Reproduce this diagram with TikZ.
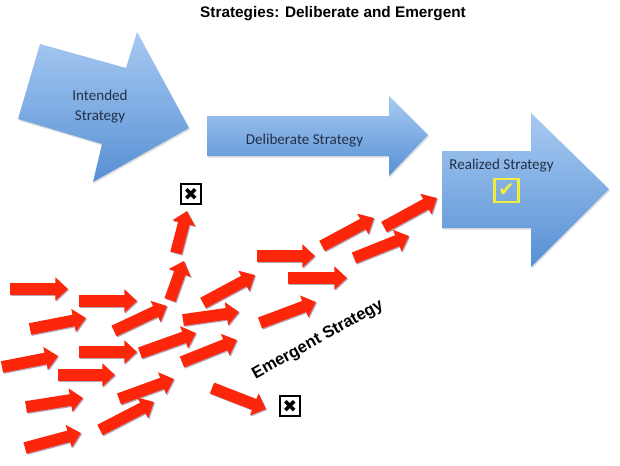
\documentclass[tikz,border=0pt]{standalone}
\usepackage{fontspec}
\setmainfont{Carlito}
\newfontfamily\headfont{Liberation Sans}
\newfontfamily\symfont{DejaVu Sans}
\usetikzlibrary{arrows.meta,shadows}
\definecolor{blueTop}{HTML}{A8CAF2}
\definecolor{blueBot}{HTML}{5790D4}
\definecolor{arrRed}{HTML}{FC260A}
\definecolor{shadowC}{HTML}{B3A6BD}
\definecolor{chkY}{HTML}{F0EC40}
\definecolor{txtBlue}{HTML}{243048}
\tikzset{
  bigarrow/.style={top color=blueTop, bottom color=blueBot, draw=none,
    drop shadow={shadow xshift=0.8pt, shadow yshift=-1.2pt, opacity=0.25}},
  bluetext/.style={text=txtBlue, font=\fontsize{11.3}{15}\selectfont, inner sep=0pt, align=center},
  redarrow/.style={line width=8.8pt, draw=arrRed, -{Triangle[length=9.5pt, width=17pt]}},
  redshadow/.style={line width=8.8pt, draw=shadowC, -{Triangle[length=9.5pt, width=17pt]},
    transform canvas={shift={(0.8pt,-0.8pt)}}},
  xbox/.style={draw=black, line width=1.5pt, minimum width=15pt, minimum height=15.5pt,
    inner sep=0pt, font=\symfont\fontsize{13}{13}\selectfont},
  chkbox/.style={draw=chkY, line width=1.6pt, minimum width=18pt, minimum height=17pt,
    inner sep=0pt, text=chkY, font=\symfont\fontsize{15}{15}\selectfont},
}
\newcommand\redarr[2]{\draw[redshadow] (#1) -- (#2); \draw[redarrow] (#1) -- (#2);}
\begin{document}
\begin{tikzpicture}[x=0.75pt, y=-0.75pt]
\fill[white] (0,0) rectangle (620,465);
\useasboundingbox (0,0) rectangle (620,465);

% title
\node[font=\headfont\bfseries\fontsize{11.5}{13}\selectfont, inner sep=0pt] (title) at (333,14) {Strategies: Deliberate and Emergent};

% big blue arrows
\path[bigarrow] (40,44) -- (126,68) -- (137,32) -- (189,128) -- (93,182) -- (102,144) -- (18,119) -- cycle;
\path[bigarrow] (207,116) -- (389,116) -- (389,96) -- (428,135) -- (389,176) -- (389,156) -- (207,156) -- cycle;
\path[bigarrow] (442,151) -- (531,151) -- (531,113) -- (609,189) -- (531,267) -- (531,228) -- (442,228) -- cycle;

\node[bluetext] (intended) at (100,107) {Intended\\Strategy};
\node[bluetext] (deliberate) at (304.5,141) {Deliberate Strategy};
\node[bluetext] (realized) at (501.5,166) {Realized Strategy};
\node[chkbox] (check) at (506.5,190.5) {✔};

% X boxes
\node[xbox] (x1) at (191,194) {✖};
\node[xbox] (x2) at (290,406) {✖};

% red arrow end points
\coordinate (as) at (10,289);  \coordinate (ae) at (68,289);
\coordinate (bs) at (79,301);  \coordinate (be) at (137,301);
\coordinate (cs) at (30,329);  \coordinate (ce) at (86,318);
\coordinate (ds) at (114,331); \coordinate (de) at (167,306);
\coordinate (es) at (2,367);   \coordinate (ee) at (58,356);
\coordinate (fs) at (79,352);  \coordinate (fe) at (137,352);
\coordinate (gs) at (140,353); \coordinate (ge) at (196,333);
\coordinate (hs) at (58,375);  \coordinate (he) at (115,375);
\coordinate (is) at (26,407);  \coordinate (ie) at (83,398);
\coordinate (js) at (119,399); \coordinate (je) at (174,379);
\coordinate (ks) at (25,448);  \coordinate (ke) at (81,433);
\coordinate (ls) at (100,430); \coordinate (le) at (154,402);
\coordinate (ms) at (176,253); \coordinate (me) at (187,211);
\coordinate (ns) at (170,300); \coordinate (ne) at (184,261);
\coordinate (os) at (203,303); \coordinate (oe) at (255,275);
\coordinate (ps) at (183,320); \coordinate (pe) at (239,312);
\coordinate (qs) at (182,362); \coordinate (qe) at (237,340);
\coordinate (rs) at (212,388); \coordinate (re) at (266,409);
\coordinate (ss) at (260,323); \coordinate (se) at (316,302);
\coordinate (ts) at (257,256); \coordinate (te) at (315,256);
\coordinate (us) at (322,246); \coordinate (ue) at (374,218);
\coordinate (vs) at (384,227); \coordinate (ve) at (437,198);
\coordinate (ws) at (288,278); \coordinate (we) at (347,278);
\coordinate (xs) at (354,258); \coordinate (xe) at (409,236);

\redarr{as}{ae} \redarr{bs}{be} \redarr{cs}{ce} \redarr{ds}{de}
\redarr{es}{ee} \redarr{fs}{fe} \redarr{gs}{ge} \redarr{hs}{he}
\redarr{is}{ie} \redarr{js}{je} \redarr{ks}{ke} \redarr{ls}{le}
\redarr{ms}{me} \redarr{ns}{ne} \redarr{os}{oe} \redarr{ps}{pe}
\redarr{qs}{qe} \redarr{rs}{re} \redarr{ss}{se} \redarr{ts}{te}
\redarr{us}{ue} \redarr{vs}{ve} \redarr{ws}{we} \redarr{xs}{xe}

\node[font=\headfont\bfseries\fontsize{12.4}{14}\selectfont, rotate=29, inner sep=0pt] (emergent) at (318,340) {Emergent Strategy};
\end{tikzpicture}
\end{document}
